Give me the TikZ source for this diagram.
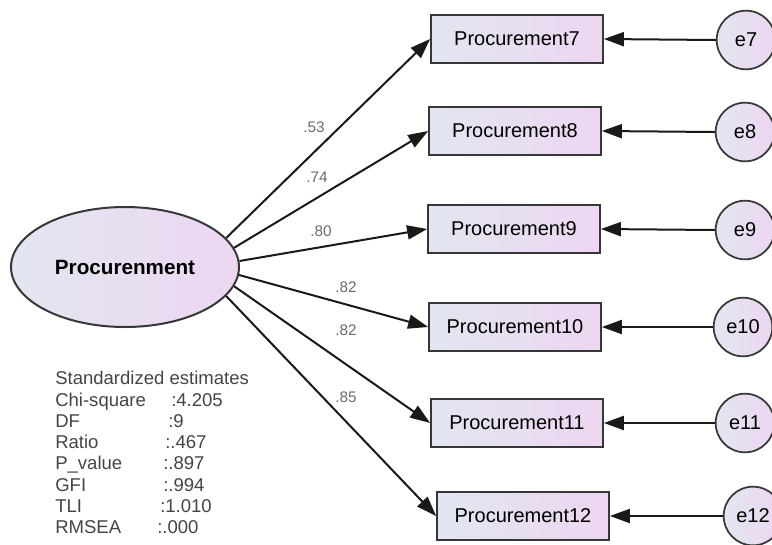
\documentclass[tikz,border=0pt]{standalone}
\usepackage{fontspec}
\setmainfont{Liberation Sans}
\usetikzlibrary{arrows.meta,shapes.geometric}

\definecolor{fillL}{RGB}{226,230,240}
\definecolor{fillR}{RGB}{237,214,241}
\definecolor{edgegray}{RGB}{55,55,55}
\definecolor{statgray}{RGB}{68,68,68}

\begin{document}
\begin{tikzpicture}[x=0.75pt,y=-0.75pt,
  latent/.style={ellipse, draw=edgegray, line width=1.5pt, minimum width=171pt,
    minimum height=90pt, inner sep=0pt, left color=fillL, right color=fillR,
    font=\fontsize{15.5}{18}\selectfont\bfseries},
  observed/.style={rectangle, draw=edgegray, line width=1.3pt, minimum width=129pt,
    minimum height=36pt, inner sep=0pt, left color=fillL, right color=fillR,
    font=\fontsize{15}{18}\selectfont},
  errvar/.style={circle, draw=edgegray, line width=1.3pt, minimum size=44pt,
    inner sep=0pt, left color=fillL, right color=fillR,
    font=\fontsize{15}{18}\selectfont},
  loading/.style={-{Triangle[length=15pt,width=10.5pt]}, line width=1.5pt, black!90},
  wt/.style={font=\fontsize{11.5}{13}\selectfont, text=black!58, inner sep=0pt},
  statline/.style={anchor=base west, font=\fontsize{13.9}{16}\selectfont,
    text=statgray, inner sep=0pt}
]
\useasboundingbox (0,0) rectangle (772,544);
\clip (0,0) rectangle (772,544);

% latent factor
\node[latent] (F) at (125,267) {Procurenment};

% indicators
\node[observed] (P7)  at (517,39)  {Procurement7};
\node[observed] (P8)  at (515,131) {Procurement8};
\node[observed] (P9)  at (514,229) {Procurement9};
\node[observed] (P10) at (515,327) {Procurement10};
\node[observed] (P11) at (517,423) {Procurement11};
\node[observed] (P12) at (523,516) {Procurement12};

% error terms
\node[errvar] (e7)  at (746,40)  {e7};
\node[errvar] (e8)  at (745,132) {e8};
\node[errvar] (e9)  at (745,230) {e9};
\node[errvar] (e10) at (743,327) {e10};
\node[errvar] (e11) at (745,423) {e11};
\node[errvar] (e12) at (753,516) {e12};

% factor loadings, leaving the right side of the ellipse
\draw[loading] (F.16)   -- (P7.west);
\draw[loading] (F.10)   -- (P8.west);
\draw[loading] (F.3.5)  -- (P9.west);
\draw[loading] (F.-4)   -- (P10.west);
\draw[loading] (F.-10)  -- (P11.west);
\draw[loading] (F.-16)  -- (P12.west);

\node[wt] (w7)  at (314,127) {.53};
\node[wt] (w8)  at (317,177) {.74};
\node[wt] (w9)  at (321,231) {.80};
\node[wt] (w10) at (346,287) {.82};
\node[wt] (w11) at (346,330) {.82};
\node[wt] (w12) at (346,397) {.85};

% error paths
\foreach \i in {7,...,12}
  \draw[loading] (e\i.west) -- (P\i.east);

% fit statistics
\node[statline] (s0) at (55,384) {Standardized estimates};
\node[statline] (s1) at (55,406) {Chi-square};
\node[statline] (s2) at (55,427) {DF};
\node[statline] (s3) at (55,448) {Ratio};
\node[statline] (s4) at (55,469) {P\_value};
\node[statline] (s5) at (55,491) {GFI};
\node[statline] (s6) at (55,512) {TLI};
\node[statline] (s7) at (55,533) {RMSEA};

\node[statline] (v1) at (171,406) {:4.205};
\node[statline] (v2) at (168,427) {:9};
\node[statline] (v3) at (165,448) {:.467};
\node[statline] (v4) at (163,469) {:.897};
\node[statline] (v5) at (163,491) {:.994};
\node[statline] (v6) at (160,512) {:1.010};
\node[statline] (v7) at (157,533) {:.000};
\end{tikzpicture}
\end{document}
